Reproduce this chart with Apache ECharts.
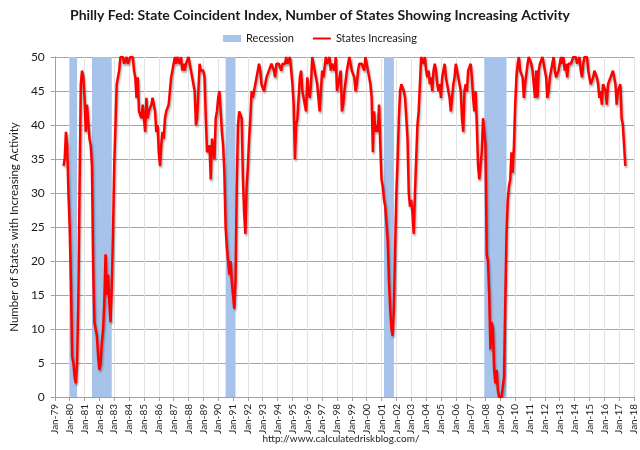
<!DOCTYPE html>
<html>
<head>
<meta charset="utf-8">
<script src="https://cdn.jsdelivr.net/npm/echarts@6/dist/echarts.min.js"></script>
<style>html,body{margin:0;padding:0;background:#fff}#c{width:640px;height:450px}</style>
</head>
<body>
<div id="c"></div>
<script>
// Monthly values, number of states with increasing activity (first value = Aug 1979)
const startYear = 1979, startMonth = 8;
const v1979 = [34, 35, 39, 37, 30];
const v1980 = [25, 17, 6, 5, 3, 2, 5, 14, 31, 46, 48, 47];
const v1981 = [44, 39, 43, 43, 38, 37, 34, 19, 11, 11, 9, 6];
const v1982 = [4, 5, 8, 10, 14, 21, 15, 18, 14, 11, 16, 24];
const v1983 = [34, 40, 46, 47, 48, 50, 50, 50, 49, 49, 50, 49];
const v1984 = [49, 50, 50, 50, 48, 47, 44, 47, 42, 42, 41, 43];
const v1985 = [41, 39, 44, 41, 42, 42, 43, 44, 43, 42, 39, 40];
const v1986 = [36, 34, 37, 39, 38, 41, 42, 42, 43, 45, 47, 48];
const v1987 = [49, 50, 49, 50, 50, 49, 50, 48, 49, 48, 49, 49];
const v1988 = [50, 49, 48, 47, 46, 45, 40, 41, 45, 49, 48, 48];
const v1989 = [48, 47, 41, 36, 36, 37, 32, 38, 38, 35, 41, 42];
const v1990 = [44, 45, 42, 39, 37, 33, 25, 22, 20, 18, 20, 17];
const v1991 = [17, 13, 17, 31, 40, 42, 42, 41, 32, 27, 24, 31];
const v1992 = [34, 38, 41, 45, 44, 45, 45, 47, 48, 49, 48, 46];
const v1993 = [46, 45, 45, 47, 47, 48, 48, 49, 49, 48, 47, 49];
const v1994 = [49, 49, 49, 48, 49, 49, 49, 50, 49, 49, 50, 48];
const v1995 = [46, 43, 35, 40, 41, 44, 47, 48, 45, 44, 44, 42];
const v1996 = [47, 45, 44, 46, 50, 49, 48, 47, 46, 44, 42, 42];
const v1997 = [48, 47, 47, 50, 49, 49, 50, 48, 49, 49, 48, 50];
const v1998 = [45, 46, 47, 48, 42, 43, 45, 45, 48, 49, 50, 50];
const v1999 = [48, 48, 47, 45, 46, 48, 49, 49, 49, 49, 48, 50];
const v2000 = [49, 48, 47, 46, 44, 36, 42, 39, 40, 39, 43, 37];
const v2001 = [32, 31, 29, 28, 28, 23, 17, 13, 10, 9, 13, 22];
const v2002 = [30, 35, 41, 45, 46, 46, 45, 44, 41, 38, 30, 28];
const v2003 = [29, 27, 24, 30, 35, 40, 42, 46, 50, 50, 49, 50];
const v2004 = [48, 47, 48, 46, 47, 45, 48, 49, 48, 46, 45, 46];
const v2005 = [44, 47, 48, 49, 47, 46, 45, 44, 42, 44, 46, 47];
const v2006 = [49, 48, 47, 46, 45, 41, 39, 45, 46, 45, 48, 48];
const v2007 = [49, 47, 44, 42, 45, 40, 34, 32, 32, 36, 41, 39];
const v2008 = [37, 21, 20, 15, 7, 11, 10, 4, 2, 4, 1, 0];
const v2009 = [0, 0, 0, 3, 14, 24, 29, 31, 32, 36, 33, 37];
const v2010 = [43, 47, 49, 50, 48, 48, 47, 44, 46, 46, 49, 50];
const v2011 = [50, 49, 48, 46, 44, 48, 44, 48, 49, 49, 50, 49];
const v2012 = [48, 47, 44, 45, 47, 48, 49, 50, 48, 47, 47, 48];
const v2013 = [49, 50, 49, 50, 48, 49, 47, 49, 49, 49, 49, 50];
const v2014 = [50, 50, 49, 49, 50, 48, 47, 49, 50, 50, 50, 48];
const v2015 = [47, 46, 46, 47, 48, 48, 47, 46, 44, 45, 43, 46];
const v2016 = [46, 45, 43, 46, 46, 47, 47, 48, 47, 46, 43, 45];
const v2017 = [45, 46, 41, 40, 37, 34];

// Recession periods [start, end] as year-month
const recessions = [
  ['1980-01', '1980-07'],
  ['1981-07', '1982-11'],
  ['1990-07', '1991-03'],
  ['2001-03', '2001-11'],
  ['2007-12', '2009-06']
];
const yTicks = {min: 0, max: 50, interval: 5};
const xRange = {fromYear: 1979, toYear: 2018};

const allValues = [].concat(v1979, v1980, v1981, v1982, v1983, v1984, v1985, v1986, v1987, v1988, v1989,
  v1990, v1991, v1992, v1993, v1994, v1995, v1996, v1997, v1998, v1999,
  v2000, v2001, v2002, v2003, v2004, v2005, v2006, v2007, v2008, v2009,
  v2010, v2011, v2012, v2013, v2014, v2015, v2016, v2017);

function monthIndex(y, m) { return (y - xRange.fromYear) * 12 + (m - 1); }
function ymIndex(s) { const p = s.split('-'); return monthIndex(+p[0], +p[1]); }
const first = monthIndex(startYear, startMonth);
const lineData = allValues.map((v, i) => [first + i, v]);
const areaData = recessions.map(r => [{xAxis: ymIndex(r[0])}, {xAxis: ymIndex(r[1])}]);

const font = 'Lato, "Open Sans", sans-serif';
const chart = echarts.init(document.getElementById('c'), null, {renderer: 'canvas'});
chart.setOption({
  animation: false,
  textStyle: {fontFamily: font},
  title: {
    text: 'Philly Fed: State Coincident Index, Number of States Showing Increasing Activity',
    left: 'center', top: 3,
    textStyle: {fontFamily: font, fontSize: 14, fontWeight: 'bold', color: '#1a1a1a'}
  },
  legend: {
    top: 28, left: 'center', itemGap: 18, itemWidth: 18, itemHeight: 7,
    textStyle: {fontFamily: font, fontSize: 11, color: '#1a1a1a'},
    data: [
      {name: 'Recession', icon: 'rect'},
      {name: 'States Increasing', itemStyle: {opacity: 0}}
    ]
  },
  grid: {left: 47, right: 6, top: 57, bottom: 53},
  xAxis: {
    type: 'value',
    min: monthIndex(xRange.fromYear, 1), max: monthIndex(xRange.toYear, 1), interval: 12,
    axisLine: {lineStyle: {color: '#a0a0a0'}},
    axisTick: {show: true, length: 4, lineStyle: {color: '#a0a0a0'}},
    splitLine: {show: true, lineStyle: {color: '#e2e2e2'}},
    axisLabel: {
      rotate: 90, fontSize: 10, color: '#222', margin: 7, fontFamily: font,
      formatter: v => 'Jan-' + String((xRange.fromYear + Math.round(v / 12)) % 100).padStart(2, '0')
    }
  },
  yAxis: {
    type: 'value', min: yTicks.min, max: yTicks.max, interval: yTicks.interval,
    name: 'Number of States with Increasing Activity', nameLocation: 'middle', nameGap: 27,
    nameTextStyle: {fontFamily: font, fontSize: 11.5, color: '#1a1a1a'},
    axisLine: {show: true, lineStyle: {color: '#a0a0a0'}},
    axisTick: {show: true, length: 4, lineStyle: {color: '#a0a0a0'}},
    splitLine: {lineStyle: {color: '#a6a6a6'}},
    axisLabel: {fontSize: 12, color: '#1a1a1a', margin: 10, fontFamily: font}
  },
  series: [
    {
      name: 'Recession', type: 'bar', data: [], itemStyle: {color: '#a7c3ea'},
      markArea: {silent: true, itemStyle: {color: '#a7c3ea'}, data: areaData}
    },
    {
      name: 'States Increasing', type: 'line', data: lineData, symbol: 'none', z: 5,
      itemStyle: {color: '#ff0000'},
      lineStyle: {color: '#ff0000', width: 2.5, shadowColor: 'rgba(0,0,0,0.35)', shadowBlur: 2, shadowOffsetX: 1, shadowOffsetY: 2}
    }
  ],
  graphic: [{
    type: 'text', x: 341, y: 439,
    style: {text: 'http://www.calculatedriskblog.com/', fontSize: 10, fontFamily: font, fill: '#222', textAlign: 'center', textVerticalAlign: 'middle'}
  }]
});
</script>
</body>
</html>
